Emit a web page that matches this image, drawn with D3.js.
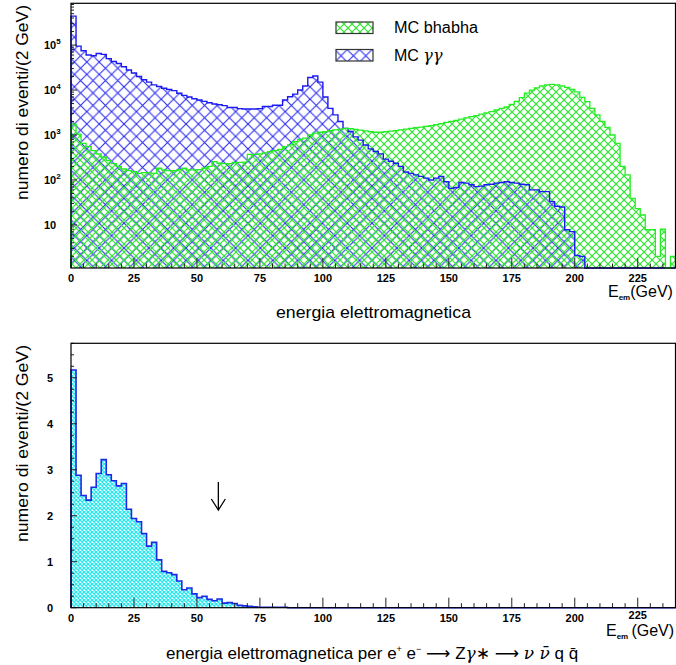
<!DOCTYPE html>
<html>
<head>
<meta charset="utf-8">
<script src="https://cdn.jsdelivr.net/npm/d3@7/dist/d3.min.js"></script>
<style>
  html, body { margin: 0; padding: 0; background: #fff; }
  svg { display: block; }
  text { font-family: "Liberation Sans", "DejaVu Sans", Arial, sans-serif; fill: #000; }
</style>
</head>
<body>
<svg id="chart" width="676" height="665"></svg>
<script>
// Energy bins: 2 GeV wide, 0 -> 240 GeV
const binWidth = 2;
const energyMax = 240;

// Monte Carlo Bhabha events per 2 GeV bin
const bhabha = [
  1750, 1050, 650, 550, 450, 380, 320, 270, 230, 200,
  175, 162, 153, 140, 145, 143, 140, 182, 167, 162,
  160, 170, 182, 167, 167, 170, 182, 200, 255, 235,
  230, 230, 245, 245, 250, 370, 370, 380, 400, 425,
  450, 480, 550, 600, 710, 800, 850, 1000, 1100, 1150,
  1180, 1250, 1300, 1350, 1400, 1380, 1330, 1280, 1230, 1180,
  1150, 1150, 1180, 1220, 1250, 1300, 1350, 1400, 1450, 1500,
  1560, 1620, 1700, 1780, 1900, 2000, 2100, 2250, 2400, 2550,
  2700, 2900, 3100, 3300, 3600, 3900, 4200, 4800, 5600, 6800,
  8500, 10000, 11200, 12400, 13000, 13400, 13000, 12400, 11500, 10300,
  9100, 6900, 5500, 3900, 2800, 2000, 1480, 1000, 650, 200,
  130, 39, 23, 16.6, 7.8, 7.8, 2, 8, 0, 2
];

// Monte Carlo gamma-gamma events per 2 GeV bin
const gammaGamma = [
  440000, 95000, 75000, 60000, 58000, 65000, 62000, 50000, 43000, 39000,
  33000, 28000, 24000, 20000, 17000, 15000, 13000, 12000, 11000, 10300,
  9700, 8500, 7600, 7000, 6400, 6000, 5600, 5200, 4900, 4700,
  4500, 4100, 4100, 3850, 3800, 3800, 3800, 3850, 4300, 4300,
  4600, 4600, 6000, 7100, 8100, 10000, 12300, 19000, 20500, 15000,
  7000, 3900, 2800, 2000, 1400, 1200, 910, 770, 600, 490,
  430, 380, 290, 260, 235, 200, 150, 140, 130, 120,
  110, 100, 110, 120, 91, 65, 68, 88, 85, 78,
  71, 73, 78, 80, 85, 88, 91, 88, 85, 80,
  78, 60, 60, 55, 55, 33, 26, 25, 7.8, 7.1,
  2.1, 2.0, 0, 0, 0, 0, 0, 0, 0, 0,
  0, 0, 0, 0, 0, 0, 0, 0, 0, 0
];

// Expected e+e- -> Z gamma* -> nu nubar q qbar events per 2 GeV bin
const signal = [
  5.17, 2.88, 2.44, 2.34, 2.62, 2.92, 3.22, 2.89, 2.76, 2.65,
  2.70, 2.14, 1.94, 1.87, 1.61, 1.34, 1.42, 1.04, 0.79, 0.76,
  0.72, 0.58, 0.39, 0.43, 0.30, 0.22, 0.25, 0.18, 0.15, 0.19,
  0.10, 0.11, 0.09, 0.05, 0.04, 0.03, 0.02, 0.01, 0.01, 0.01,
  0.01, 0.01, 0.01, 0, 0, 0, 0, 0, 0, 0,
  0, 0, 0, 0, 0, 0, 0, 0, 0, 0,
  0, 0, 0, 0, 0, 0, 0, 0, 0, 0,
  0, 0, 0, 0, 0, 0, 0, 0, 0, 0,
  0, 0, 0, 0, 0, 0, 0, 0, 0, 0,
  0, 0, 0, 0, 0, 0, 0, 0, 0, 0,
  0, 0, 0, 0, 0, 0, 0, 0, 0, 0,
  0, 0, 0, 0, 0, 0, 0, 0, 0, 0
];

// Axis ticks and labels
const xMajorTicks = [0, 25, 50, 75, 100, 125, 150, 175, 200, 225];
const logDecades = [10, 100, 1000, 10000, 100000];
const logExponents = ["", "2", "3", "4", "5"];
const linTicks = [0, 1, 2, 3, 4, 5];
const cutEnergy = 58.5;   // selection cut marked by the arrow

const legendItems = [
  { label: "MC bhabha", pattern: "hatchGreen" },
  { label: "MC \u03b3\u03b3", pattern: "hatchBlue" }
];

const svg = d3.select("#chart");

// ---------- hatch patterns ----------
const defs = svg.append("defs");
function hatch(id, size, color, width) {
  const p = defs.append("pattern")
    .attr("id", id)
    .attr("patternUnits", "userSpaceOnUse")
    .attr("width", size).attr("height", size);
  p.append("path")
    .attr("d", `M${-1},${-1}L${size + 1},${size + 1}M${size + 1},${-1}L${-1},${size + 1}`)
    .attr("stroke", color).attr("stroke-width", width).attr("fill", "none");
}
hatch("hatchGreen", 8, "#2ee82e", 1.2);
hatch("hatchBlue", 12.4, "#2b2bf0", 1.1);
hatch("hatchCyan", 4, "#2fe6ec", 1.3);

// ---------- geometry ----------
const left = 71, right = 675.5;
const top1 = 3.3, bottom1 = 268;
const top2 = 343.3, bottom2 = 607.7;

const x = d3.scaleLinear().domain([0, energyMax]).range([left, right]);
const yLog = d3.scaleLog().domain([1.1, 8.5e5]).range([bottom1, top1]).clamp(true);
const yLin = d3.scaleLinear().domain([0, 5.75]).range([bottom2, top2]).clamp(true);

function stepPath(values, y, base) {
  let d = `M${x(0)},${base}`;
  values.forEach((v, i) => {
    const yy = v > 0 ? y(v) : base;
    d += `L${x(i * binWidth)},${yy}L${x((i + 1) * binWidth)},${yy}`;
  });
  d += `L${x(values.length * binWidth)},${base}`;
  return d;
}

function xTicks(g, base, yLabel, raise225) {
  for (let e = 0; e <= energyMax; e += 5) {
    const major = e % 25 === 0;
    g.append("line")
      .attr("x1", x(e)).attr("x2", x(e))
      .attr("y1", base).attr("y2", base - (major ? 10 : 4.5))
      .attr("stroke", "#222").attr("stroke-width", 1);
  }
  xMajorTicks.forEach(t => {
    g.append("text")
      .attr("x", x(t)).attr("y", yLabel - (raise225 && t === 225 ? 3 : 0))
      .attr("text-anchor", "middle")
      .attr("font-size", 11).attr("font-weight", "bold")
      .text(t);
  });
}

function emLabel(g, xPos, yPos, gap) {
  const t = g.append("text").attr("x", xPos).attr("y", yPos).attr("font-size", 16);
  t.append("tspan").text("E");
  t.append("tspan").attr("font-size", 8).attr("font-weight", "bold").attr("dy", 3).text("em");
  t.append("tspan").attr("dy", -3).text((gap ? "\u2009" : "") + "(GeV)");
}

// ---------- upper panel: log scale ----------
const g1 = svg.append("g");

g1.append("path").attr("d", stepPath(gammaGamma, yLog, bottom1))
  .attr("fill", "url(#hatchBlue)").attr("stroke", "none");
g1.append("path").attr("d", stepPath(bhabha, yLog, bottom1))
  .attr("fill", "url(#hatchGreen)").attr("stroke", "none");
g1.append("path").attr("d", stepPath(gammaGamma, yLog, bottom1))
  .attr("fill", "none").attr("stroke", "#1a1af2").attr("stroke-width", 1.4);
g1.append("path").attr("d", stepPath(bhabha, yLog, bottom1))
  .attr("fill", "none").attr("stroke", "#22ee22").attr("stroke-width", 1.3);

// log axis ticks
for (let dec = 1; dec <= 1e5; dec *= 10) {
  for (let m = 1; m <= 9; m++) {
    const v = dec * m;
    if (v < 1.1 || v > 8.5e5) continue;
    g1.append("line")
      .attr("x1", left).attr("x2", left + (m === 1 ? 6 : 3))
      .attr("y1", yLog(v)).attr("y2", yLog(v))
      .attr("stroke", "#222");
  }
}
logDecades.forEach((v, i) => {
  const t = g1.append("text")
    .attr("x", 44).attr("y", yLog(v) + 4)
    .attr("font-size", 11).attr("font-weight", "bold");
  t.append("tspan").text("10");
  if (logExponents[i]) {
    t.append("tspan").attr("font-size", 8).attr("dy", -5).text(logExponents[i]);
  }
});

xTicks(g1, bottom1, 282, false);

g1.append("rect")
  .attr("x", left).attr("y", top1)
  .attr("width", right - left).attr("height", bottom1 - top1)
  .attr("fill", "none").attr("stroke", "#000").attr("stroke-width", 1.2);

g1.append("text")
  .attr("transform", `translate(28,5) rotate(-90)`)
  .attr("text-anchor", "end").attr("font-size", 17)
  .attr("textLength", 195).attr("lengthAdjust", "spacingAndGlyphs")
  .text("numero di eventi/(2 GeV)");

g1.append("text")
  .attr("x", 373.5).attr("y", 318).attr("text-anchor", "middle").attr("font-size", 17)
  .attr("textLength", 195).attr("lengthAdjust", "spacingAndGlyphs")
  .text("energia elettromagnetica");

emLabel(g1, 608, 297, false);

// legend
legendItems.forEach((d, i) => {
  const yy = 22 + i * 27.5;
  g1.append("rect")
    .attr("x", 336).attr("y", yy).attr("width", 37).attr("height", 11.5)
    .attr("fill", `url(#${d.pattern})`).attr("stroke", "#333").attr("stroke-width", 1.2);
  const t = g1.append("text").attr("x", 394).attr("y", yy + 11).attr("font-size", 16);
  if (i === 0) t.attr("textLength", 84).attr("lengthAdjust", "spacingAndGlyphs").text(d.label);
  else {
    t.append("tspan").text("MC ");
    t.append("tspan").attr("font-style", "italic").attr("font-family", "DejaVu Serif, serif").text("\u03b3\u03b3");
  }
});

// ---------- lower panel: linear scale ----------
const g2 = svg.append("g");

g2.append("path").attr("d", stepPath(signal, yLin, bottom2))
  .attr("fill", "url(#hatchCyan)").attr("stroke", "none");
g2.append("path").attr("d", stepPath(signal, yLin, bottom2))
  .attr("fill", "none").attr("stroke", "#1a2ae6").attr("stroke-width", 1.6);

for (let v = 0; v <= 5.75; v += 0.25) {
  const major = Math.abs(v - Math.round(v)) < 1e-6;
  g2.append("line")
    .attr("x1", left).attr("x2", left + (major ? 6 : 3))
    .attr("y1", yLin(v)).attr("y2", yLin(v))
    .attr("stroke", "#222");
}
linTicks.forEach(v => {
  g2.append("text")
    .attr("x", 50).attr("y", yLin(v) + 4)
    .attr("text-anchor", "middle")
    .attr("font-size", 11).attr("font-weight", "bold")
    .text(v);
});

xTicks(g2, bottom2, 622, true);

g2.append("rect")
  .attr("x", left).attr("y", top2)
  .attr("width", right - left).attr("height", bottom2 - top2)
  .attr("fill", "none").attr("stroke", "#000").attr("stroke-width", 1.2);

// cut arrow
const ax = x(cutEnergy);
g2.append("line").attr("x1", ax).attr("x2", ax).attr("y1", 482).attr("y2", 509)
  .attr("stroke", "#000").attr("stroke-width", 1.3);
g2.append("path").attr("d", `M${ax - 7},${499}L${ax},${510}L${ax + 7},${499}`)
  .attr("fill", "none").attr("stroke", "#000").attr("stroke-width", 1.3);

g2.append("text")
  .attr("transform", `translate(28,345) rotate(-90)`)
  .attr("text-anchor", "end").attr("font-size", 17)
  .attr("textLength", 197).attr("lengthAdjust", "spacingAndGlyphs")
  .text("numero di eventi/(2 GeV)");

emLabel(g2, 606, 636, true);

// process label
const pl = g2.append("text").attr("x", 166).attr("y", 659).attr("font-size", 17);
pl.append("tspan").text("energia elettromagnetica per e");
pl.append("tspan").attr("font-size", 9).attr("dy", -7).text("+");
pl.append("tspan").attr("dy", 7).text(" e");
pl.append("tspan").attr("font-size", 9).attr("dy", -7).text("\u2212");
pl.append("tspan").attr("dy", 7).text("  \u27f6  Z");
pl.append("tspan").attr("font-style", "italic").attr("font-family", "DejaVu Serif, serif").text("\u03b3");
pl.append("tspan").text("\u2217  \u27f6  ");
pl.append("tspan").attr("font-style", "italic").attr("font-family", "DejaVu Serif, serif").text("\u03bd \u03bd\u0304");
pl.append("tspan").text(" q q\u0304");
</script>
</body>
</html>
